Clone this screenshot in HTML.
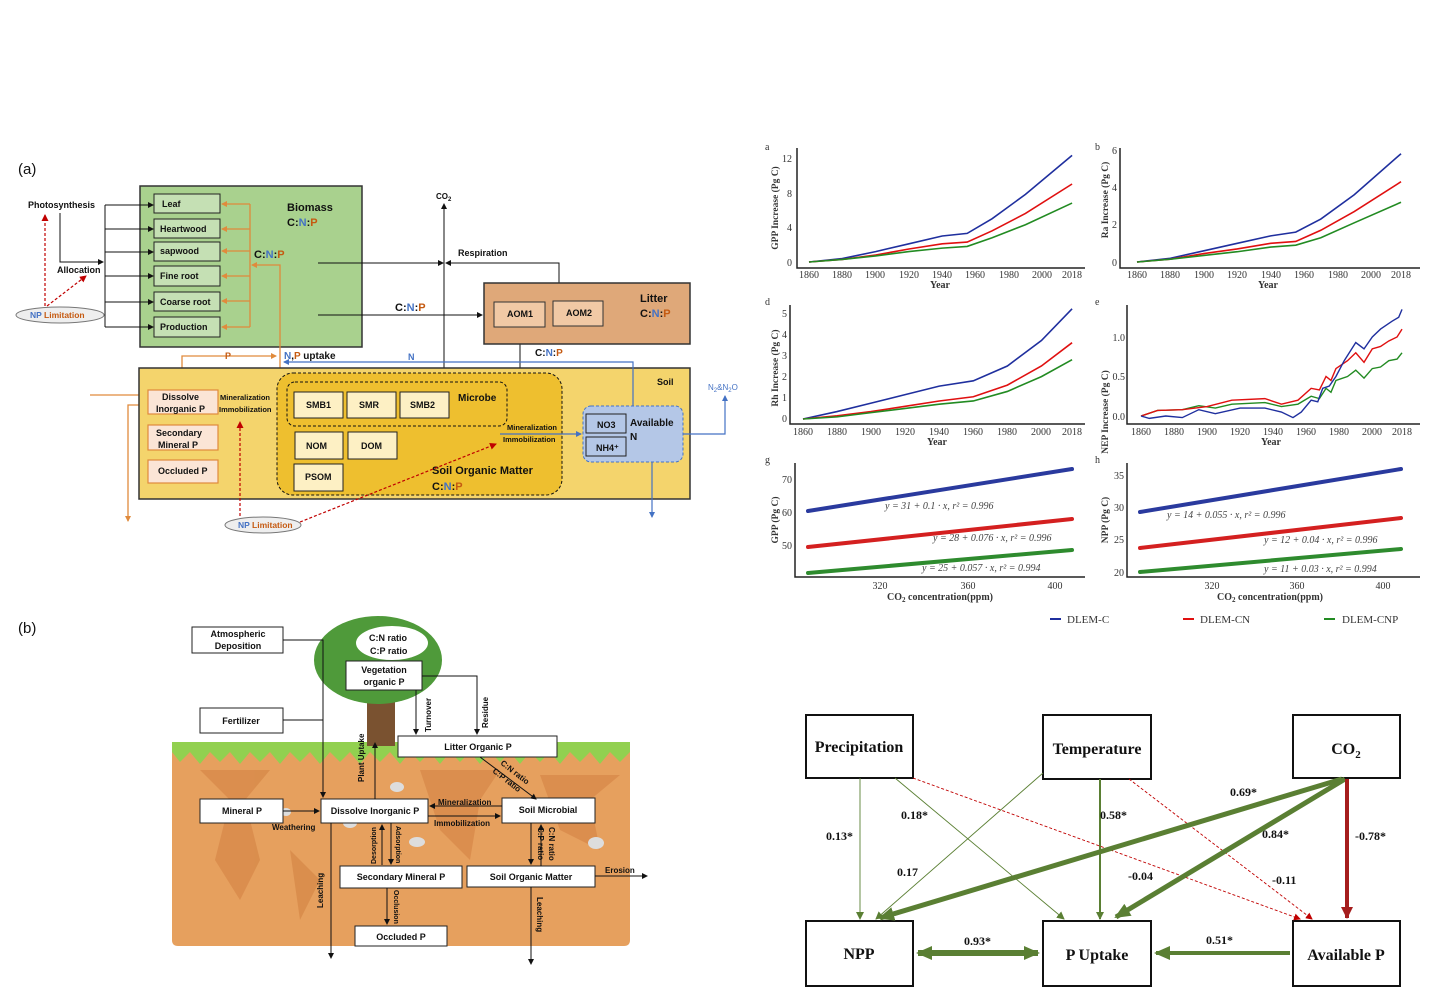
<!DOCTYPE html>
<html><head><meta charset="utf-8"><style>
html,body{margin:0;padding:0;background:#fff;width:1434px;height:1008px;overflow:hidden}
svg{display:block}
.s{font-family:"Liberation Sans",sans-serif;font-weight:bold;fill:#111}
.r{font-family:"Liberation Serif",serif;fill:#333}
.o{fill:#c55a11}.b{fill:#4472c4}
</style></head><body>
<svg width="1434" height="1008" viewBox="0 0 1434 1008" font-size="9" xmlns="http://www.w3.org/2000/svg">
<defs>
<marker id="ak" markerWidth="6" markerHeight="6" refX="5" refY="3" orient="auto" markerUnits="userSpaceOnUse"><path d="M0,0 L6,3 L0,6z" fill="#111"/></marker>
<marker id="ao" markerWidth="6" markerHeight="6" refX="5" refY="3" orient="auto" markerUnits="userSpaceOnUse"><path d="M0,0 L6,3 L0,6z" fill="#e08a3c"/></marker>
<marker id="ab" markerWidth="6" markerHeight="6" refX="5" refY="3" orient="auto" markerUnits="userSpaceOnUse"><path d="M0,0 L6,3 L0,6z" fill="#4472c4"/></marker>
<marker id="ar" markerWidth="7" markerHeight="7" refX="6" refY="3.5" orient="auto" markerUnits="userSpaceOnUse"><path d="M0,0 L7,3.5 L0,7z" fill="#c00000"/></marker>
<marker id="ag" markerWidth="8" markerHeight="8" refX="7" refY="4" orient="auto" markerUnits="userSpaceOnUse"><path d="M0,0 L8,4 L0,8z" fill="#5a7f33"/></marker>
<marker id="agL" markerWidth="16" markerHeight="14" refX="14" refY="7" orient="auto" markerUnits="userSpaceOnUse"><path d="M0,0 L16,7 L0,14z" fill="#5a7f33"/></marker>
<marker id="agLs" markerWidth="16" markerHeight="14" refX="2" refY="7" orient="auto" markerUnits="userSpaceOnUse"><path d="M16,0 L0,7 L16,14z" fill="#5a7f33"/></marker>
<marker id="arL" markerWidth="12" markerHeight="12" refX="11" refY="6" orient="auto" markerUnits="userSpaceOnUse"><path d="M0,0 L12,6 L0,12z" fill="#a51d1d"/></marker>
</defs>

<!-- ================= PANEL (a) ================= -->
<text x="18" y="174" font-family="Liberation Sans,sans-serif" font-size="15" fill="#111">(a)</text>
<rect x="140" y="186" width="222" height="161" fill="#a9d18e" stroke="#333" stroke-width="1.5"/>
<g stroke="#222" stroke-width="1" fill="#c5e0b4">
<rect x="154" y="194" width="66" height="19"/><rect x="154" y="219" width="66" height="19"/>
<rect x="154" y="242" width="66" height="19"/><rect x="154" y="266" width="66" height="20"/>
<rect x="154" y="292" width="66" height="19"/><rect x="154" y="317" width="66" height="20"/>
</g>
<g class="s"><text x="162" y="207">Leaf</text><text x="160" y="232">Heartwood</text><text x="160" y="254">sapwood</text>
<text x="160" y="279">Fine root</text><text x="160" y="305">Coarse root</text><text x="160" y="330">Production</text></g>
<text x="287" y="211" class="s" font-size="11">Biomass</text>
<text x="287" y="226" class="s" font-size="11">C:<tspan class="b">N</tspan>:<tspan class="o">P</tspan></text>
<text x="254" y="258" class="s" font-size="11">C:<tspan class="b">N</tspan>:<tspan class="o">P</tspan></text>
<g stroke="#e08a3c" stroke-width="1.3" fill="none">
<line x1="250" y1="204" x2="250" y2="327"/>
<line x1="250" y1="204" x2="222" y2="204" marker-end="url(#ao)"/><line x1="250" y1="229" x2="222" y2="229" marker-end="url(#ao)"/>
<line x1="250" y1="251" x2="222" y2="251" marker-end="url(#ao)"/><line x1="250" y1="276" x2="222" y2="276" marker-end="url(#ao)"/>
<line x1="250" y1="301" x2="222" y2="301" marker-end="url(#ao)"/><line x1="250" y1="327" x2="222" y2="327" marker-end="url(#ao)"/>
<polyline points="280,390 280,265 252,265" marker-end="url(#ao)"/>
<polyline points="182,390 182,356 276,356" marker-end="url(#ao)"/>
<line x1="218" y1="402" x2="276" y2="402" marker-end="url(#ao)"/>
<line x1="90" y1="395" x2="147" y2="395" marker-end="url(#ao)"/>
<polyline points="147,405 128,405 128,521" marker-end="url(#ao)"/>
<line x1="182" y1="414" x2="182" y2="424"/><line x1="182" y1="450" x2="182" y2="459"/>
</g>
<g stroke="#111" stroke-width="1" fill="none">
<line x1="105" y1="205" x2="105" y2="327"/>
<line x1="105" y1="205" x2="153" y2="205" marker-end="url(#ak)"/><line x1="105" y1="229" x2="153" y2="229" marker-end="url(#ak)"/>
<line x1="105" y1="252" x2="153" y2="252" marker-end="url(#ak)"/><line x1="105" y1="276" x2="153" y2="276" marker-end="url(#ak)"/>
<line x1="105" y1="302" x2="153" y2="302" marker-end="url(#ak)"/><line x1="105" y1="327" x2="153" y2="327" marker-end="url(#ak)"/>
<polyline points="60,213 60,262 103,262" marker-end="url(#ak)"/>
<line x1="444" y1="370" x2="444" y2="204" marker-end="url(#ak)"/>
<line x1="318" y1="263" x2="443" y2="263" marker-end="url(#ak)"/>
<polyline points="559,283 559,263 446,263" marker-end="url(#ak)"/>
<line x1="318" y1="315" x2="482" y2="315" marker-end="url(#ak)"/>
<line x1="520" y1="344" x2="520" y2="379" marker-end="url(#ak)"/>
</g>
<text x="28" y="208" class="s">Photosynthesis</text>
<text x="57" y="273" class="s">Allocation</text>
<text x="436" y="199" class="s" font-size="8">CO<tspan font-size="6" dy="2">2</tspan></text>
<text x="458" y="256" class="s">Respiration</text>
<text x="395" y="311" class="s" font-size="11">C:<tspan class="b">N</tspan>:<tspan class="o">P</tspan></text>
<rect x="484" y="283" width="206" height="61" fill="#dfa879" stroke="#333" stroke-width="1.5"/>
<rect x="494" y="302" width="51" height="25" fill="#f1c9a5" stroke="#333"/><rect x="553" y="301" width="50" height="25" fill="#f1c9a5" stroke="#333"/>
<text x="507" y="317" class="s">AOM1</text><text x="566" y="316" class="s">AOM2</text>
<text x="640" y="302" class="s" font-size="11">Litter</text>
<text x="640" y="317" class="s" font-size="11">C:<tspan class="b">N</tspan>:<tspan class="o">P</tspan></text>
<text x="535" y="356" class="s" font-size="10">C:<tspan class="b">N</tspan>:<tspan class="o">P</tspan></text>
<!-- soil -->
<rect x="139" y="368" width="551" height="131" fill="#f4d46c" stroke="#333" stroke-width="1.5"/>
<text x="657" y="385" class="s">Soil</text>
<rect x="277" y="373" width="285" height="122" rx="16" fill="#eebf2f" stroke="#111" stroke-dasharray="3,2"/>
<rect x="287" y="382" width="220" height="44" rx="8" fill="none" stroke="#111" stroke-dasharray="3,2"/>
<g fill="#fdf0c4" stroke="#222"><rect x="294" y="392" width="49" height="26"/><rect x="347" y="392" width="49" height="26"/><rect x="400" y="392" width="49" height="26"/>
<rect x="295" y="432" width="48" height="27"/><rect x="348" y="432" width="49" height="27"/><rect x="294" y="464" width="49" height="27"/></g>
<g class="s"><text x="306" y="408">SMB1</text><text x="359" y="408">SMR</text><text x="410" y="408">SMB2</text>
<text x="306" y="449">NOM</text><text x="361" y="449">DOM</text><text x="305" y="480">PSOM</text>
<text x="458" y="401" font-size="10">Microbe</text></g>
<text x="432" y="474" class="s" font-size="11">Soil Organic Matter</text>
<text x="432" y="490" class="s" font-size="11">C:<tspan class="b">N</tspan>:<tspan class="o">P</tspan></text>
<rect x="583" y="406" width="100" height="56" rx="8" fill="#b4c7e7" stroke="#4472c4" stroke-dasharray="3,2"/>
<rect x="586" y="414" width="40" height="19" fill="#b4c7e7" stroke="#222"/><rect x="586" y="437" width="40" height="19" fill="#b4c7e7" stroke="#222"/>
<text x="597" y="428" class="s">NO3</text><text x="596" y="451" class="s">NH4⁺</text>
<text x="630" y="426" class="s" font-size="10">Available</text><text x="630" y="440" class="s" font-size="10">N</text>
<text x="507" y="430" class="s" font-size="7.5">Mineralization</text><text x="503" y="442" class="s" font-size="7.5">Immobilization</text>
<g stroke="#4472c4" stroke-width="1.2" fill="none">
<line x1="500" y1="434" x2="581" y2="434" marker-end="url(#ab)"/>
<polyline points="633,406 633,362 284,362" marker-end="url(#ab)"/>
<polyline points="683,434 725,434 725,396" marker-end="url(#ab)"/>
<line x1="652" y1="462" x2="652" y2="517" marker-end="url(#ab)"/>
</g>
<text x="708" y="390" font-family="Liberation Sans,sans-serif" font-size="8" fill="#4472c4">N<tspan font-size="6" dy="2">2</tspan><tspan dy="-2">&amp;N</tspan><tspan font-size="6" dy="2">2</tspan><tspan dy="-2">O</tspan></text>
<text x="408" y="360" class="s b">N</text>
<text x="284" y="359" class="s" font-size="10"><tspan class="b">N</tspan>,<tspan class="o">P</tspan> uptake</text>
<text x="225" y="359" class="s o">P</text>
<g fill="#fbe5d6" stroke="#e08a3c" stroke-width="1.2"><rect x="148" y="390" width="70" height="24"/><rect x="148" y="425" width="70" height="25"/><rect x="148" y="460" width="70" height="23"/></g>
<g class="s"><text x="162" y="400">Dissolve</text><text x="156" y="412">Inorganic P</text>
<text x="156" y="436">Secondary</text><text x="158" y="448">Mineral P</text><text x="158" y="474">Occluded P</text>
<text x="220" y="400" font-size="7.5">Mineralization</text><text x="219" y="412" font-size="7.5">Immobilization</text></g>
<!-- NP limitation -->
<ellipse cx="60" cy="315" rx="44" ry="8" fill="#eee" stroke="#777"/>
<text x="30" y="318" class="s" font-size="8.5"><tspan class="b">NP</tspan><tspan class="o"> Limitation</tspan></text>
<ellipse cx="263" cy="525" rx="38" ry="8" fill="#eee" stroke="#777"/>
<text x="238" y="528" class="s" font-size="8.5"><tspan class="b">NP</tspan><tspan class="o"> Limitation</tspan></text>
<g stroke="#c00000" stroke-dasharray="3,2" stroke-width="1.2" fill="none">
<line x1="45" y1="306" x2="45" y2="215" marker-end="url(#ar)"/>
<line x1="47" y1="306" x2="86" y2="276" marker-end="url(#ar)"/>
<line x1="240" y1="516" x2="240" y2="422" marker-end="url(#ar)"/>
<line x1="300" y1="522" x2="496" y2="444" marker-end="url(#ar)"/>
</g>

<!-- ================= PANEL (b) ================= -->
<text x="18" y="633" font-family="Liberation Sans,sans-serif" font-size="15" fill="#111">(b)</text>
<path d="M172,748 L630,748 L630,940 Q630,946 624,946 L178,946 Q172,946 172,940Z" fill="#e6a05e"/>
<g fill="#d88a4a" opacity="0.8"><path d="M200,770 L230,800 L215,860 L240,900 L260,860 L245,800 L270,770Z"/><path d="M420,770 L440,830 L470,860 L480,800 L500,770Z"/><path d="M540,775 L560,830 L600,850 L590,800 L620,775Z"/><path d="M290,850 L300,920 L320,880Z"/></g>
<path d="M172,742 L630,742 L630,752 L620,762 L610,752 L600,764 L590,752 L580,762 L570,752 L560,764 L550,752 L540,762 L530,752 L520,764 L510,752 L500,762 L490,752 L480,764 L470,752 L460,762 L450,752 L440,764 L430,752 L420,762 L410,752 L400,764 L390,752 L380,762 L370,752 L360,764 L350,752 L340,762 L330,752 L320,764 L310,752 L300,762 L290,752 L280,764 L270,752 L260,762 L250,752 L240,764 L230,752 L220,762 L210,752 L200,764 L190,752 L180,762 L172,752Z" fill="#92d050"/>
<g fill="#ddd"><ellipse cx="397" cy="787" rx="7" ry="5"/><ellipse cx="417" cy="842" rx="8" ry="5"/><ellipse cx="596" cy="843" rx="8" ry="6"/><ellipse cx="350" cy="823" rx="7" ry="5"/><ellipse cx="286" cy="812" rx="5" ry="4"/></g>
<rect x="367" y="688" width="28" height="58" fill="#7a5230"/>
<ellipse cx="378" cy="660" rx="64" ry="44" fill="#4f9a3a"/>
<ellipse cx="392" cy="643" rx="36" ry="17" fill="#fff"/>
<text x="369" y="641" class="s">C:N ratio</text><text x="370" y="654" class="s">C:P ratio</text>
<g fill="#fff" stroke="#222">
<rect x="192" y="627" width="91" height="26"/><rect x="200" y="708" width="83" height="25"/>
<rect x="346" y="661" width="76" height="29"/><rect x="398" y="736" width="159" height="21"/>
<rect x="200" y="799" width="83" height="24"/><rect x="321" y="799" width="107" height="24"/>
<rect x="502" y="798" width="93" height="25"/><rect x="340" y="866" width="122" height="22"/>
<rect x="467" y="866" width="128" height="21"/><rect x="355" y="926" width="92" height="20"/>
</g>
<g class="s" text-anchor="middle">
<text x="238" y="637">Atmospheric</text><text x="238" y="649">Deposition</text>
<text x="241" y="724">Fertilizer</text>
<text x="384" y="673">Vegetation</text><text x="384" y="685">organic P</text>
<text x="478" y="750">Litter Organic P</text><text x="242" y="814">Mineral P</text>
<text x="375" y="814">Dissolve Inorganic P</text><text x="548" y="813">Soil Microbial</text>
<text x="401" y="880">Secondary Mineral P</text><text x="531" y="880">Soil Organic Matter</text>
<text x="401" y="940">Occluded  P</text>
</g>
<g stroke="#111" stroke-width="1" fill="none">
<polyline points="283,640 323,640 323,797" marker-end="url(#ak)"/>
<line x1="283" y1="720" x2="323" y2="720"/>
<line x1="283" y1="811" x2="319" y2="811" marker-end="url(#ak)"/>
<line x1="375" y1="799" x2="375" y2="743" marker-end="url(#ak)"/>
<line x1="416" y1="690" x2="416" y2="734" marker-end="url(#ak)"/>
<polyline points="422,676 477,676 477,734" marker-end="url(#ak)"/>
<line x1="480" y1="757" x2="536" y2="799" marker-end="url(#ak)"/>
<line x1="502" y1="806" x2="430" y2="806" marker-end="url(#ak)"/>
<line x1="428" y1="816" x2="500" y2="816" marker-end="url(#ak)"/>
<line x1="382" y1="865" x2="382" y2="825" marker-end="url(#ak)"/>
<line x1="391" y1="823" x2="391" y2="864" marker-end="url(#ak)"/>
<line x1="531" y1="823" x2="531" y2="864" marker-end="url(#ak)"/>
<line x1="541" y1="866" x2="541" y2="825" marker-end="url(#ak)"/>
<line x1="387" y1="888" x2="387" y2="924" marker-end="url(#ak)"/>
<line x1="331" y1="823" x2="331" y2="958" marker-end="url(#ak)"/>
<line x1="531" y1="887" x2="531" y2="964" marker-end="url(#ak)"/>
<line x1="595" y1="876" x2="647" y2="876" marker-end="url(#ak)"/>
</g>
<g class="s" font-size="8">
<text x="272" y="830">Weathering</text>
<text x="438" y="805">Mineralization</text><text x="434" y="826">Immobilization</text>
<text x="605" y="873">Erosion</text>
<text transform="translate(364,782) rotate(-90)">Plant  Uptake</text>
<text transform="translate(431,732) rotate(-90)">Turnover</text>
<text transform="translate(488,728) rotate(-90)">Residue</text>
<text transform="translate(323,908) rotate(-90)">Leaching</text>
<text transform="translate(376,864) rotate(-90)" font-size="7">Desorption</text>
<text transform="translate(396,826) rotate(90)" font-size="7">Adsorption</text>
<text transform="translate(394,890) rotate(90)" font-size="7">Occlusion</text>
<text transform="translate(537,897) rotate(90)">Leaching</text>
<text transform="translate(538,827) rotate(90)">C:P ratio</text>
<text transform="translate(549,827) rotate(90)">C:N ratio</text>
<text transform="translate(500,764) rotate(38)">C:N ratio</text>
<text transform="translate(492,772) rotate(38)">C:P ratio</text>
</g>

<!-- ================= CHARTS ================= -->
<g class="r" font-size="10">
<text x="765" y="150">a</text>
<polyline points="797,148 797,268 1085,268" fill="none" stroke="#222" stroke-width="1.5"/>
<g text-anchor="end"><text x="792" y="266">0</text><text x="792" y="231">4</text><text x="792" y="197">8</text><text x="792" y="162">12</text></g>
<g text-anchor="middle"><text x="809" y="278">1860</text><text x="842" y="278">1880</text><text x="875" y="278">1900</text><text x="909" y="278">1920</text><text x="942" y="278">1940</text><text x="975" y="278">1960</text><text x="1009" y="278">1980</text><text x="1042" y="278">2000</text><text x="1072" y="278">2018</text>
<text x="940" y="288" font-weight="bold">Year</text>
<text transform="translate(778,208) rotate(-90)" font-weight="bold" font-size="9.5">GPP Increase (Pg C)</text></g>
<g transform="translate(809,262) scale(1.665,-8.667)" fill="none" stroke-width="1.6">
<polyline vector-effect="non-scaling-stroke" stroke="#1f2f9e" points="0,0 20,0.4 40,1.2 60,2.1 80,3.0 95,3.3 110,5 130,7.8 158,12.3"/>
<polyline vector-effect="non-scaling-stroke" stroke="#e01010" points="0,0 20,0.3 40,0.8 60,1.5 80,2.1 95,2.3 110,3.6 130,5.6 158,9"/>
<polyline vector-effect="non-scaling-stroke" stroke="#228b22" points="0,0 20,0.3 40,0.7 60,1.2 80,1.6 95,1.8 110,2.8 130,4.3 158,6.8"/></g>
<text x="1095" y="150">b</text>
<polyline points="1120,148 1120,268 1420,268" fill="none" stroke="#222" stroke-width="1.5"/>
<g text-anchor="end"><text x="1117" y="266">0</text><text x="1117" y="228">2</text><text x="1117" y="191">4</text><text x="1117" y="154">6</text></g>
<g text-anchor="middle"><text x="1137" y="278">1860</text><text x="1170" y="278">1880</text><text x="1204" y="278">1900</text><text x="1237" y="278">1920</text><text x="1271" y="278">1940</text><text x="1304" y="278">1960</text><text x="1338" y="278">1980</text><text x="1371" y="278">2000</text><text x="1401" y="278">2018</text>
<text x="1268" y="288" font-weight="bold">Year</text>
<text transform="translate(1108,200) rotate(-90)" font-weight="bold" font-size="9.5">Ra Increase (Pg C)</text></g>
<g transform="translate(1137,262) scale(1.671,-18.67)" fill="none" stroke-width="1.6">
<polyline vector-effect="non-scaling-stroke" stroke="#1f2f9e" points="0,0 20,0.2 40,0.6 60,1 80,1.4 95,1.6 110,2.3 130,3.6 158,5.8"/>
<polyline vector-effect="non-scaling-stroke" stroke="#e01010" points="0,0 20,0.15 40,0.45 60,0.7 80,1 95,1.1 110,1.7 130,2.7 158,4.3"/>
<polyline vector-effect="non-scaling-stroke" stroke="#228b22" points="0,0 20,0.15 40,0.35 60,0.55 80,0.8 95,0.9 110,1.3 130,2.1 158,3.2"/></g>
<text x="765" y="305">d</text>
<polyline points="790,305 790,424 1085,424" fill="none" stroke="#222" stroke-width="1.5"/>
<g text-anchor="end"><text x="787" y="422">0</text><text x="787" y="401">1</text><text x="787" y="380">2</text><text x="787" y="359">3</text><text x="787" y="338">4</text><text x="787" y="317">5</text></g>
<g text-anchor="middle"><text x="803" y="435">1860</text><text x="837" y="435">1880</text><text x="871" y="435">1900</text><text x="905" y="435">1920</text><text x="939" y="435">1940</text><text x="973" y="435">1960</text><text x="1007" y="435">1980</text><text x="1041" y="435">2000</text><text x="1072" y="435">2018</text>
<text x="937" y="445" font-weight="bold">Year</text>
<text transform="translate(778,368) rotate(-90)" font-weight="bold" font-size="9.5">Rh Increase (Pg C)</text></g>
<g transform="translate(803,419) scale(1.703,-21.2)" fill="none" stroke-width="1.6">
<polyline vector-effect="non-scaling-stroke" stroke="#1f2f9e" points="0,0 20,0.35 40,0.75 60,1.15 80,1.55 100,1.8 120,2.5 140,3.7 158,5.2"/>
<polyline vector-effect="non-scaling-stroke" stroke="#e01010" points="0,0 20,0.15 40,0.35 60,0.6 80,0.85 100,1.05 120,1.6 140,2.5 158,3.6"/>
<polyline vector-effect="non-scaling-stroke" stroke="#228b22" points="0,0 20,0.1 40,0.3 60,0.5 80,0.7 100,0.85 120,1.3 140,2 158,2.8"/></g>
<text x="1095" y="305">e</text>
<polyline points="1127,305 1127,424 1420,424" fill="none" stroke="#222" stroke-width="1.5"/>
<g text-anchor="end"><text x="1125" y="420">0.0</text><text x="1125" y="380">0.5</text><text x="1125" y="341">1.0</text></g>
<g text-anchor="middle"><text x="1141" y="435">1860</text><text x="1174" y="435">1880</text><text x="1207" y="435">1900</text><text x="1240" y="435">1920</text><text x="1273" y="435">1940</text><text x="1306" y="435">1960</text><text x="1339" y="435">1980</text><text x="1372" y="435">2000</text><text x="1402" y="435">2018</text>
<text x="1271" y="445" font-weight="bold">Year</text>
<text transform="translate(1108,412) rotate(-90)" font-weight="bold" font-size="9.5">NEP Increase (Pg C)</text></g>
<g transform="translate(1141,416) scale(1.652,-79)" fill="none" stroke-width="1.4">
<polyline vector-effect="non-scaling-stroke" stroke="#228b22" points="0,0 10,0.07 25,0.08 35,0.13 45,0.1 55,0.15 75,0.17 85,0.12 95,0.15 103,0.25 108,0.22 112,0.35 115,0.3 118,0.45 125,0.5 130,0.58 135,0.48 140,0.6 145,0.62 150,0.7 155,0.72 158,0.8"/>
<polyline vector-effect="non-scaling-stroke" stroke="#e01010" points="0,0 10,0.07 25,0.08 40,0.12 55,0.2 75,0.22 85,0.15 95,0.2 103,0.35 108,0.33 112,0.5 115,0.45 118,0.6 125,0.7 130,0.8 135,0.68 140,0.85 145,0.88 150,0.95 155,1.0 158,1.1"/>
<polyline vector-effect="non-scaling-stroke" stroke="#1f2f9e" points="0,0 5,-0.03 15,0 25,-0.02 35,0.08 45,0.03 60,0.1 75,0.1 85,0.05 92,-0.02 97,0.05 103,0.2 107,0.18 110,0.35 114,0.38 118,0.5 123,0.7 130,0.93 135,0.85 140,1.0 145,1.1 152,1.2 156,1.25 158,1.35"/></g>
<text x="765" y="463">g</text>
<polyline points="795,463 795,577 1085,577" fill="none" stroke="#222" stroke-width="1.5"/>
<g text-anchor="end"><text x="792" y="483">70</text><text x="792" y="516">60</text><text x="792" y="549">50</text></g>
<g text-anchor="middle"><text x="880" y="589">320</text><text x="968" y="589">360</text><text x="1055" y="589">400</text>
<text x="940" y="600" font-weight="bold">CO<tspan font-size="7" dy="2">2</tspan><tspan dy="-2"> concentration(ppm)</tspan></text>
<text transform="translate(778,520) rotate(-90)" font-weight="bold" font-size="9.5">GPP (Pg C)</text></g>
<g stroke-width="4" stroke-linecap="round"><line x1="808" y1="511" x2="1072" y2="469" stroke="#2a3a9e"/><line x1="808" y1="547" x2="1072" y2="519" stroke="#d42020"/><line x1="808" y1="573" x2="1072" y2="550" stroke="#2e8b2e"/></g>
<g font-style="italic" font-size="10" fill="#444"><text x="885" y="509">y = 31 + 0.1 · x,  r² = 0.996</text><text x="933" y="541">y = 28 + 0.076 · x,  r² = 0.996</text><text x="922" y="571">y = 25 + 0.057 · x,  r² = 0.994</text></g>
<text x="1095" y="463">h</text>
<polyline points="1127,463 1127,577 1420,577" fill="none" stroke="#222" stroke-width="1.5"/>
<g text-anchor="end"><text x="1124" y="479">35</text><text x="1124" y="511">30</text><text x="1124" y="543">25</text><text x="1124" y="576">20</text></g>
<g text-anchor="middle"><text x="1212" y="589">320</text><text x="1297" y="589">360</text><text x="1383" y="589">400</text>
<text x="1270" y="600" font-weight="bold">CO<tspan font-size="7" dy="2">2</tspan><tspan dy="-2"> concentration(ppm)</tspan></text>
<text transform="translate(1108,520) rotate(-90)" font-weight="bold" font-size="9.5">NPP (Pg C)</text></g>
<g stroke-width="4" stroke-linecap="round"><line x1="1140" y1="512" x2="1401" y2="469" stroke="#2a3a9e"/><line x1="1140" y1="548" x2="1401" y2="518" stroke="#d42020"/><line x1="1140" y1="572" x2="1401" y2="549" stroke="#2e8b2e"/></g>
<g font-style="italic" font-size="10" fill="#444"><text x="1167" y="518">y = 14 + 0.055 · x,  r² = 0.996</text><text x="1264" y="543">y = 12 + 0.04 · x,  r² = 0.996</text><text x="1264" y="572">y = 11 + 0.03 · x,  r² = 0.994</text></g>
<g font-size="11" fill="#333"><line x1="1050" y1="619" x2="1061" y2="619" stroke="#1f2f9e" stroke-width="2"/><text x="1067" y="623">DLEM-C</text>
<line x1="1183" y1="619" x2="1194" y2="619" stroke="#e01010" stroke-width="2"/><text x="1200" y="623">DLEM-CN</text>
<line x1="1324" y1="619" x2="1335" y2="619" stroke="#228b22" stroke-width="2"/><text x="1342" y="623">DLEM-CNP</text></g>
</g>

<!-- ================= PATH DIAGRAM ================= -->
<g fill="#fff" stroke="#111" stroke-width="2">
<rect x="806" y="715" width="107" height="63"/><rect x="1043" y="715" width="108" height="64"/><rect x="1293" y="715" width="107" height="63"/>
<rect x="806" y="921" width="107" height="65"/><rect x="1043" y="921" width="108" height="65"/><rect x="1293" y="921" width="107" height="65"/>
</g>
<g font-family="Liberation Serif,serif" font-weight="bold" font-size="16" fill="#111" text-anchor="middle">
<text x="859" y="752">Precipitation</text><text x="1097" y="754">Temperature</text><text x="1346" y="754">CO<tspan font-size="11" dy="4">2</tspan></text>
<text x="859" y="959">NPP</text><text x="1097" y="960">P Uptake</text><text x="1346" y="960">Available P</text>
</g>
<g fill="none">
<line x1="860" y1="778" x2="860" y2="919" stroke="#5a7f33" stroke-width="0.9" marker-end="url(#ag)"/>
<line x1="895" y1="778" x2="1064" y2="919" stroke="#5a7f33" stroke-width="0.9" marker-end="url(#ag)"/>
<line x1="1043" y1="773" x2="876" y2="919" stroke="#5a7f33" stroke-width="0.9" marker-end="url(#ag)"/>
<line x1="1100" y1="779" x2="1100" y2="919" stroke="#5a7f33" stroke-width="2" marker-end="url(#ag)"/>
<line x1="913" y1="778" x2="1300" y2="919" stroke="#c00000" stroke-width="0.9" stroke-dasharray="3,2" marker-end="url(#ar)"/>
<line x1="1129" y1="779" x2="1312" y2="919" stroke="#c00000" stroke-width="0.9" stroke-dasharray="3,2" marker-end="url(#ar)"/>
<line x1="1342" y1="779" x2="880" y2="918" stroke="#5a7f33" stroke-width="5" marker-end="url(#agL)"/>
<line x1="1345" y1="779" x2="1116" y2="917" stroke="#5a7f33" stroke-width="5" marker-end="url(#agL)"/>
<line x1="1347" y1="779" x2="1347" y2="918" stroke="#a51d1d" stroke-width="4" marker-end="url(#arL)"/>
<line x1="918" y1="953" x2="1038" y2="953" stroke="#5a7f33" stroke-width="6" marker-start="url(#agLs)" marker-end="url(#agL)"/>
<line x1="1290" y1="953" x2="1156" y2="953" stroke="#5a7f33" stroke-width="4" marker-end="url(#agL)"/>
</g>
<g font-family="Liberation Serif,serif" font-weight="bold" font-size="12" fill="#111">
<text x="826" y="840">0.13*</text><text x="901" y="819">0.18*</text><text x="897" y="876">0.17</text>
<text x="1100" y="819">0.58*</text><text x="1128" y="880">-0.04</text><text x="1272" y="884">-0.11</text>
<text x="1230" y="796">0.69*</text><text x="1262" y="838">0.84*</text><text x="1355" y="840">-0.78*</text>
<text x="964" y="945">0.93*</text><text x="1206" y="944">0.51*</text>
</g>
</svg>
</body></html>
